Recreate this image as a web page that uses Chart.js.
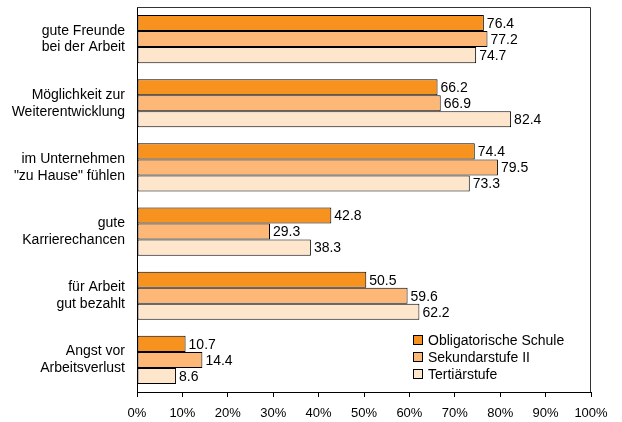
<!DOCTYPE html>
<html>
<head>
<meta charset="utf-8">
<script src="https://cdn.jsdelivr.net/npm/chart.js@4"></script>
<style>
  html, body { margin: 0; padding: 0; background: #fff; }
  #wrap { width: 622px; height: 422px; }
</style>
</head>
<body>
<div id="wrap"><canvas id="myChart" width="622" height="422"></canvas></div>
<script>
var categories = [
    ['gute Freunde', 'bei der Arbeit'],
    ['Möglichkeit zur', 'Weiterentwicklung'],
    ['im Unternehmen', '"zu Hause" fühlen'],
    ['gute', 'Karrierechancen'],
    ['für Arbeit', 'gut bezahlt'],
    ['Angst vor', 'Arbeitsverlust']
];
var seriesNames = ['Obligatorische Schule', 'Sekundarstufe II', 'Tertiärstufe'];
var obligatorisch = [76.4, 66.2, 74.4, 42.8, 50.5, 10.7];
var sekundar = [77.2, 66.9, 79.5, 29.3, 59.6, 14.4];
var tertiaer = [74.7, 82.4, 73.3, 38.3, 62.2, 8.6];
var colors = ['#F7921E', '#FDB777', '#FEE6CD'];
var font = "'Liberation Sans', Arial, sans-serif";

// Werte rechts neben den Balken
var valueLabels = {
    id: 'valueLabels',
    afterDatasetsDraw: function (chart) {
        var ctx = chart.ctx;
        ctx.save();
        ctx.font = '14px ' + font;
        ctx.fillStyle = '#000';
        ctx.textBaseline = 'middle';
        ctx.textAlign = 'left';
        chart.data.datasets.forEach(function (ds, i) {
            chart.getDatasetMeta(i).data.forEach(function (bar, j) {
                ctx.fillText(ds.data[j].toFixed(1), bar.x + 3, bar.y + 1);
            });
        });
        ctx.restore();
    }
};

// Rahmen oben/rechts und Legende unten rechts im Diagramm
var frameLegend = {
    id: 'frameLegend',
    afterDraw: function (chart) {
        var ctx = chart.ctx;
        var a = chart.chartArea;
        ctx.save();
        ctx.strokeStyle = '#333';
        ctx.lineWidth = 1;
        ctx.beginPath();
        ctx.moveTo(a.left, a.top + 0.5);
        ctx.lineTo(a.right - 0.5, a.top + 0.5);
        ctx.lineTo(a.right - 0.5, a.bottom);
        ctx.stroke();

        ctx.font = '14px ' + font;
        ctx.textBaseline = 'middle';
        var x = a.right - 178;
        var y = a.bottom - 52;
        chart.data.datasets.forEach(function (ds, i) {
            var cy = y + i * 17;
            ctx.fillStyle = ds.backgroundColor;
            ctx.fillRect(x, cy - 5, 10, 10);
            ctx.strokeStyle = '#000';
            ctx.strokeRect(x + 0.5, cy - 4.5, 9, 9);
            ctx.fillStyle = '#000';
            ctx.fillText(ds.label, x + 15, cy + 1);
        });
        ctx.restore();
    }
};

var ctx = document.getElementById('myChart').getContext('2d');

var data = {
    labels: categories,
    datasets: [
        { label: seriesNames[0], data: obligatorisch, backgroundColor: colors[0] },
        { label: seriesNames[1], data: sekundar, backgroundColor: colors[1] },
        { label: seriesNames[2], data: tertiaer, backgroundColor: colors[2] }
    ].map(function (d) {
        d.borderColor = '#000';
        d.borderWidth = 1;
        d.borderSkipped = false;
        d.categoryPercentage = 0.75;
        d.barPercentage = 1.0;
        return d;
    })
};

var options = {
    indexAxis: 'y',
    responsive: false,
    animation: false,
    layout: { padding: { top: 7, right: 31, left: 0, bottom: 0 } },
    plugins: {
        legend: { display: false },
        tooltip: { enabled: false }
    },
    scales: {
        x: {
            min: 0,
            max: 100,
            ticks: {
                stepSize: 10,
                color: '#000',
                padding: 9,
                font: { family: font, size: 13 },
                callback: function (v) { return v + '%'; }
            },
            grid: { drawOnChartArea: false, tickLength: 5, color: '#000' },
            border: { color: '#000', width: 1 },
            afterFit: function (s) { s.height = 30; s.paddingLeft = 0; s.paddingRight = 0; }
        },
        y: {
            ticks: {
                color: '#000',
                padding: 12,
                font: { family: font, size: 14 }
            },
            grid: { display: false, drawTicks: false },
            border: { color: '#000', width: 1 },
            afterFit: function (s) { s.width = 137; s.paddingTop = 0; s.paddingBottom = 0; }
        }
    }
};

var myBarChart = new Chart(ctx, {
    type: 'bar',
    data: data,
    options: options,
    plugins: [valueLabels, frameLegend]
});
</script>
</body>
</html>
